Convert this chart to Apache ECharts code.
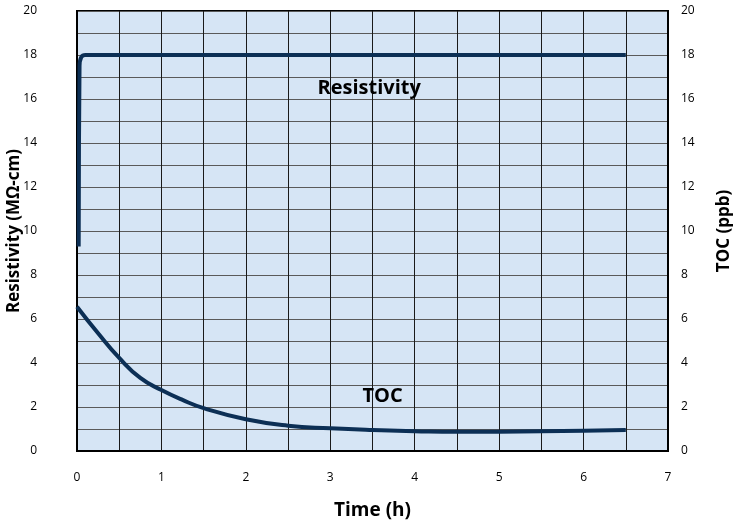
<!DOCTYPE html>
<html>
<head>
<meta charset="utf-8">
<script src="https://cdn.jsdelivr.net/npm/echarts@6/dist/echarts.min.js"></script>
<style>html,body{margin:0;padding:0;background:#fff}#c{width:745px;height:523px}</style>
</head>
<body>
<div id="c"></div>
<script>
var xTicks = [0, 1, 2, 3, 4, 5, 6, 7];
var yTicks = [0, 2, 4, 6, 8, 10, 12, 14, 16, 18, 20];
var resistivityTime = [0.02, 0.03, 0.05, 0.1, 6.5];
var resistivityValues = [9.3, 17.5, 17.9, 18.0, 18.0];
var tocTime = [0, 0.25, 0.5, 0.75, 1, 1.25, 1.5, 2, 2.5, 3, 3.5, 4, 4.5, 5, 5.5, 6, 6.5];
var tocValues = [6.56, 5.35, 4.23, 3.32, 2.77, 2.32, 1.95, 1.44, 1.15, 1.03, 0.95, 0.9, 0.87, 0.88, 0.9, 0.92, 0.95];
var labels = [
  {text: 'Resistivity', coord: [3.46, 16.5]},
  {text: 'TOC', coord: [3.62, 2.5]}
];

function zip(a, b) { return a.map(function (v, i) { return [v, b[i]]; }); }

var font = '"Open Sans", "Noto Sans", sans-serif';
var chart = echarts.init(document.getElementById('c'));
var lineColor = '#0c2f55';

function yAxis(pos, name) {
  return {
    type: 'value', position: pos, min: 0, max: 20, interval: 1,
    name: name, nameLocation: 'middle', nameRotate: 90,
    nameGap: pos === 'left' ? 54 : 48,
    nameMoveOverlap: false,
    nameTextStyle: {fontFamily: font, fontWeight: 'bold', fontSize: 17, color: '#000'},
    axisLine: {show: true, lineStyle: {color: '#000', width: 2}},
    axisTick: {show: false},
    axisLabel: {
      fontFamily: font, fontSize: 12, color: '#000',
      margin: pos === 'left' ? 40 : 13,
      align: pos === 'left' ? 'right' : 'left',
      formatter: function (v) { return yTicks.indexOf(v) >= 0 ? String(v) : ''; }
    },
    splitLine: {show: pos === 'left', lineStyle: {color: '#5a5a5a', width: 1}}
  };
}

chart.setOption({
  animation: false,
  grid: {left: 77, right: 77, top: 11, bottom: 72, show: true, outerBoundsMode: 'none', containLabel: false,
         backgroundColor: '#d6e5f5', borderColor: '#000', borderWidth: 2},
  xAxis: {
    type: 'value', min: 0, max: 7, interval: 0.5,
    name: 'Time (h)', nameLocation: 'middle', nameGap: 50, nameMoveOverlap: false,
    nameTextStyle: {fontFamily: font, fontWeight: 'bold', fontSize: 19, color: '#000'},
    axisLine: {show: true, lineStyle: {color: '#000', width: 2}},
    axisTick: {show: false},
    axisLabel: {
      fontFamily: font, fontSize: 12, color: '#000', margin: 21,
      formatter: function (v) { return xTicks.indexOf(v) >= 0 ? String(v) : ''; }
    },
    splitLine: {show: true, lineStyle: {color: '#1a1a1a', width: 1}}
  },
  yAxis: [yAxis('left', 'Resistivity (MΩ-cm)'), yAxis('right', 'TOC (ppb)')],
  series: [
    {
      type: 'line', name: 'Resistivity', data: zip(resistivityTime, resistivityValues),
      showSymbol: false, smooth: 0.3,
      lineStyle: {color: lineColor, width: 4}, z: 5
    },
    {
      type: 'line', name: 'TOC', data: zip(tocTime, tocValues),
      showSymbol: false, smooth: true,
      lineStyle: {color: lineColor, width: 4}, z: 5,
      markPoint: {
        symbol: 'circle', symbolSize: 0,
        label: {show: true, position: 'inside', fontFamily: font, fontWeight: 'bold', fontSize: 20, color: '#000',
                formatter: function (p) { return p.name; }},
        data: labels.map(function (l) { return {name: l.text, coord: l.coord, value: l.text}; })
      }
    }
  ]
});
</script>
</body>
</html>
